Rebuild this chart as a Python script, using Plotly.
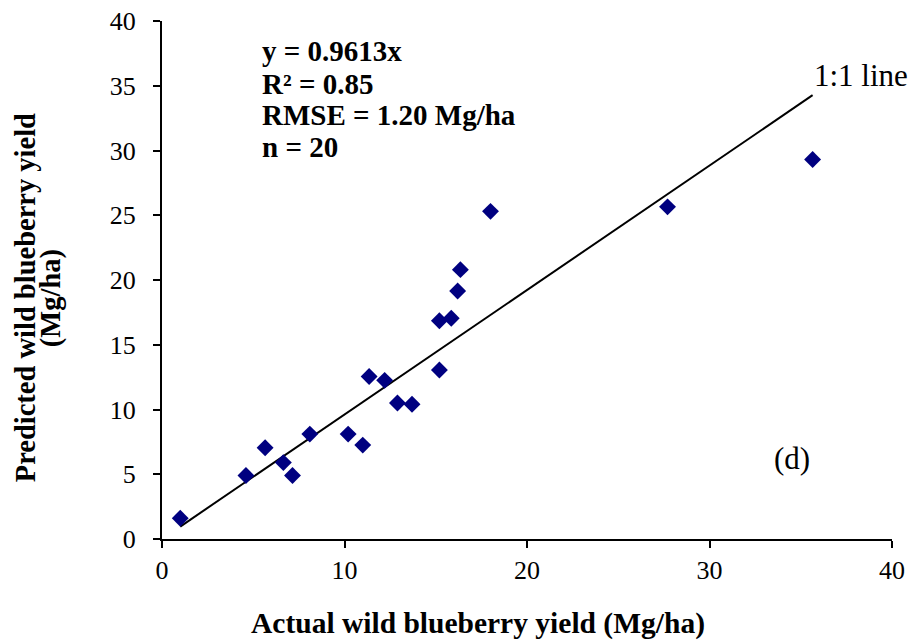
import plotly.graph_objects as go

# Actual vs predicted wild blueberry yield (Mg/ha)
actual = [1.0, 4.6, 5.65, 6.65, 7.15, 8.1, 10.2, 11.0, 11.35, 12.2,
          12.9, 13.7, 15.2, 15.2, 15.85, 16.2, 16.35, 18.0, 27.7, 35.65]
predicted = [1.6, 4.9, 7.05, 5.9, 4.9, 8.1, 8.1, 7.25, 12.55, 12.25,
             10.5, 10.4, 13.05, 16.85, 17.05, 19.15, 20.8, 25.3, 25.65, 29.3]

slope = 0.9613
line_x = [1.0, 35.65]
line_y = [slope * v for v in line_x]

stats_lines = ["y = 0.9613x", "R² = 0.85", "RMSE = 1.20 Mg/ha", "n = 20"]
stats_y = [37.68, 35.14, 32.74, 30.27]

x_title = "Actual wild blueberry yield (Mg/ha)"
y_title_lines = ["Predicted wild blueberry yield", "(Mg/ha)"]

FONT = "Liberation Serif, Times New Roman, serif"
BLACK = "black"

fig = go.Figure()
fig.add_trace(go.Scatter(
    x=line_x, y=line_y, mode="lines",
    line=dict(color=BLACK, width=2), showlegend=False, hoverinfo="skip",
))
fig.add_trace(go.Scatter(
    x=actual, y=predicted, mode="markers",
    marker=dict(symbol="diamond", size=13, color="#000080",
                line=dict(width=0)),
    showlegend=False,
))

# Regression statistics block
for txt, yy in zip(stats_lines, stats_y):
    fig.add_annotation(
        x=5.37, y=yy, xref="x", yref="y",
        text=f"<b>{txt}</b>", showarrow=False, xanchor="left", yanchor="middle",
        font=dict(family=FONT, size=29, color=BLACK),
    )

fig.add_annotation(
    x=35.6, y=35.83, xref="x", yref="y", text="1:1 line", showarrow=False,
    xanchor="left", yanchor="middle",
    font=dict(family=FONT, size=31, color=BLACK),
)
fig.add_annotation(
    x=34.5, y=6.25, xref="x", yref="y", text="(d)", showarrow=False,
    xanchor="center", yanchor="middle",
    font=dict(family=FONT, size=31, color=BLACK),
)

# Axis titles
fig.add_annotation(
    x=0.433, y=-0.164, xref="paper", yref="paper",
    text=f"<b>{x_title}</b>", showarrow=False,
    xanchor="center", yanchor="middle",
    font=dict(family=FONT, size=29.5, color=BLACK),
)
for txt, xp in zip(y_title_lines, [-0.1875, -0.152]):
    fig.add_annotation(
        x=xp, y=0.465, xref="paper", yref="paper",
        text=f"<b>{txt}</b>", showarrow=False, textangle=-90,
        xanchor="center", yanchor="middle",
        font=dict(family=FONT, size=28.5, color=BLACK),
    )

axis_common = dict(
    showgrid=False, zeroline=False, showline=True, linecolor=BLACK,
    linewidth=2, ticks="outside", ticklen=7, tickwidth=2, tickcolor=BLACK,
    tickfont=dict(family=FONT, size=26, color=BLACK),
    mirror=False, automargin=False,
)

fig.update_xaxes(range=[0, 40], dtick=10, tick0=0, **axis_common)
fig.update_yaxes(range=[0, 40], dtick=5, tick0=0, ticklabelstandoff=12,
                 **axis_common)

fig.update_layout(
    width=912, height=641,
    margin=dict(l=162, r=20, t=21, b=102),
    plot_bgcolor="white", paper_bgcolor="white",
)

fig.write_html("out.html")
